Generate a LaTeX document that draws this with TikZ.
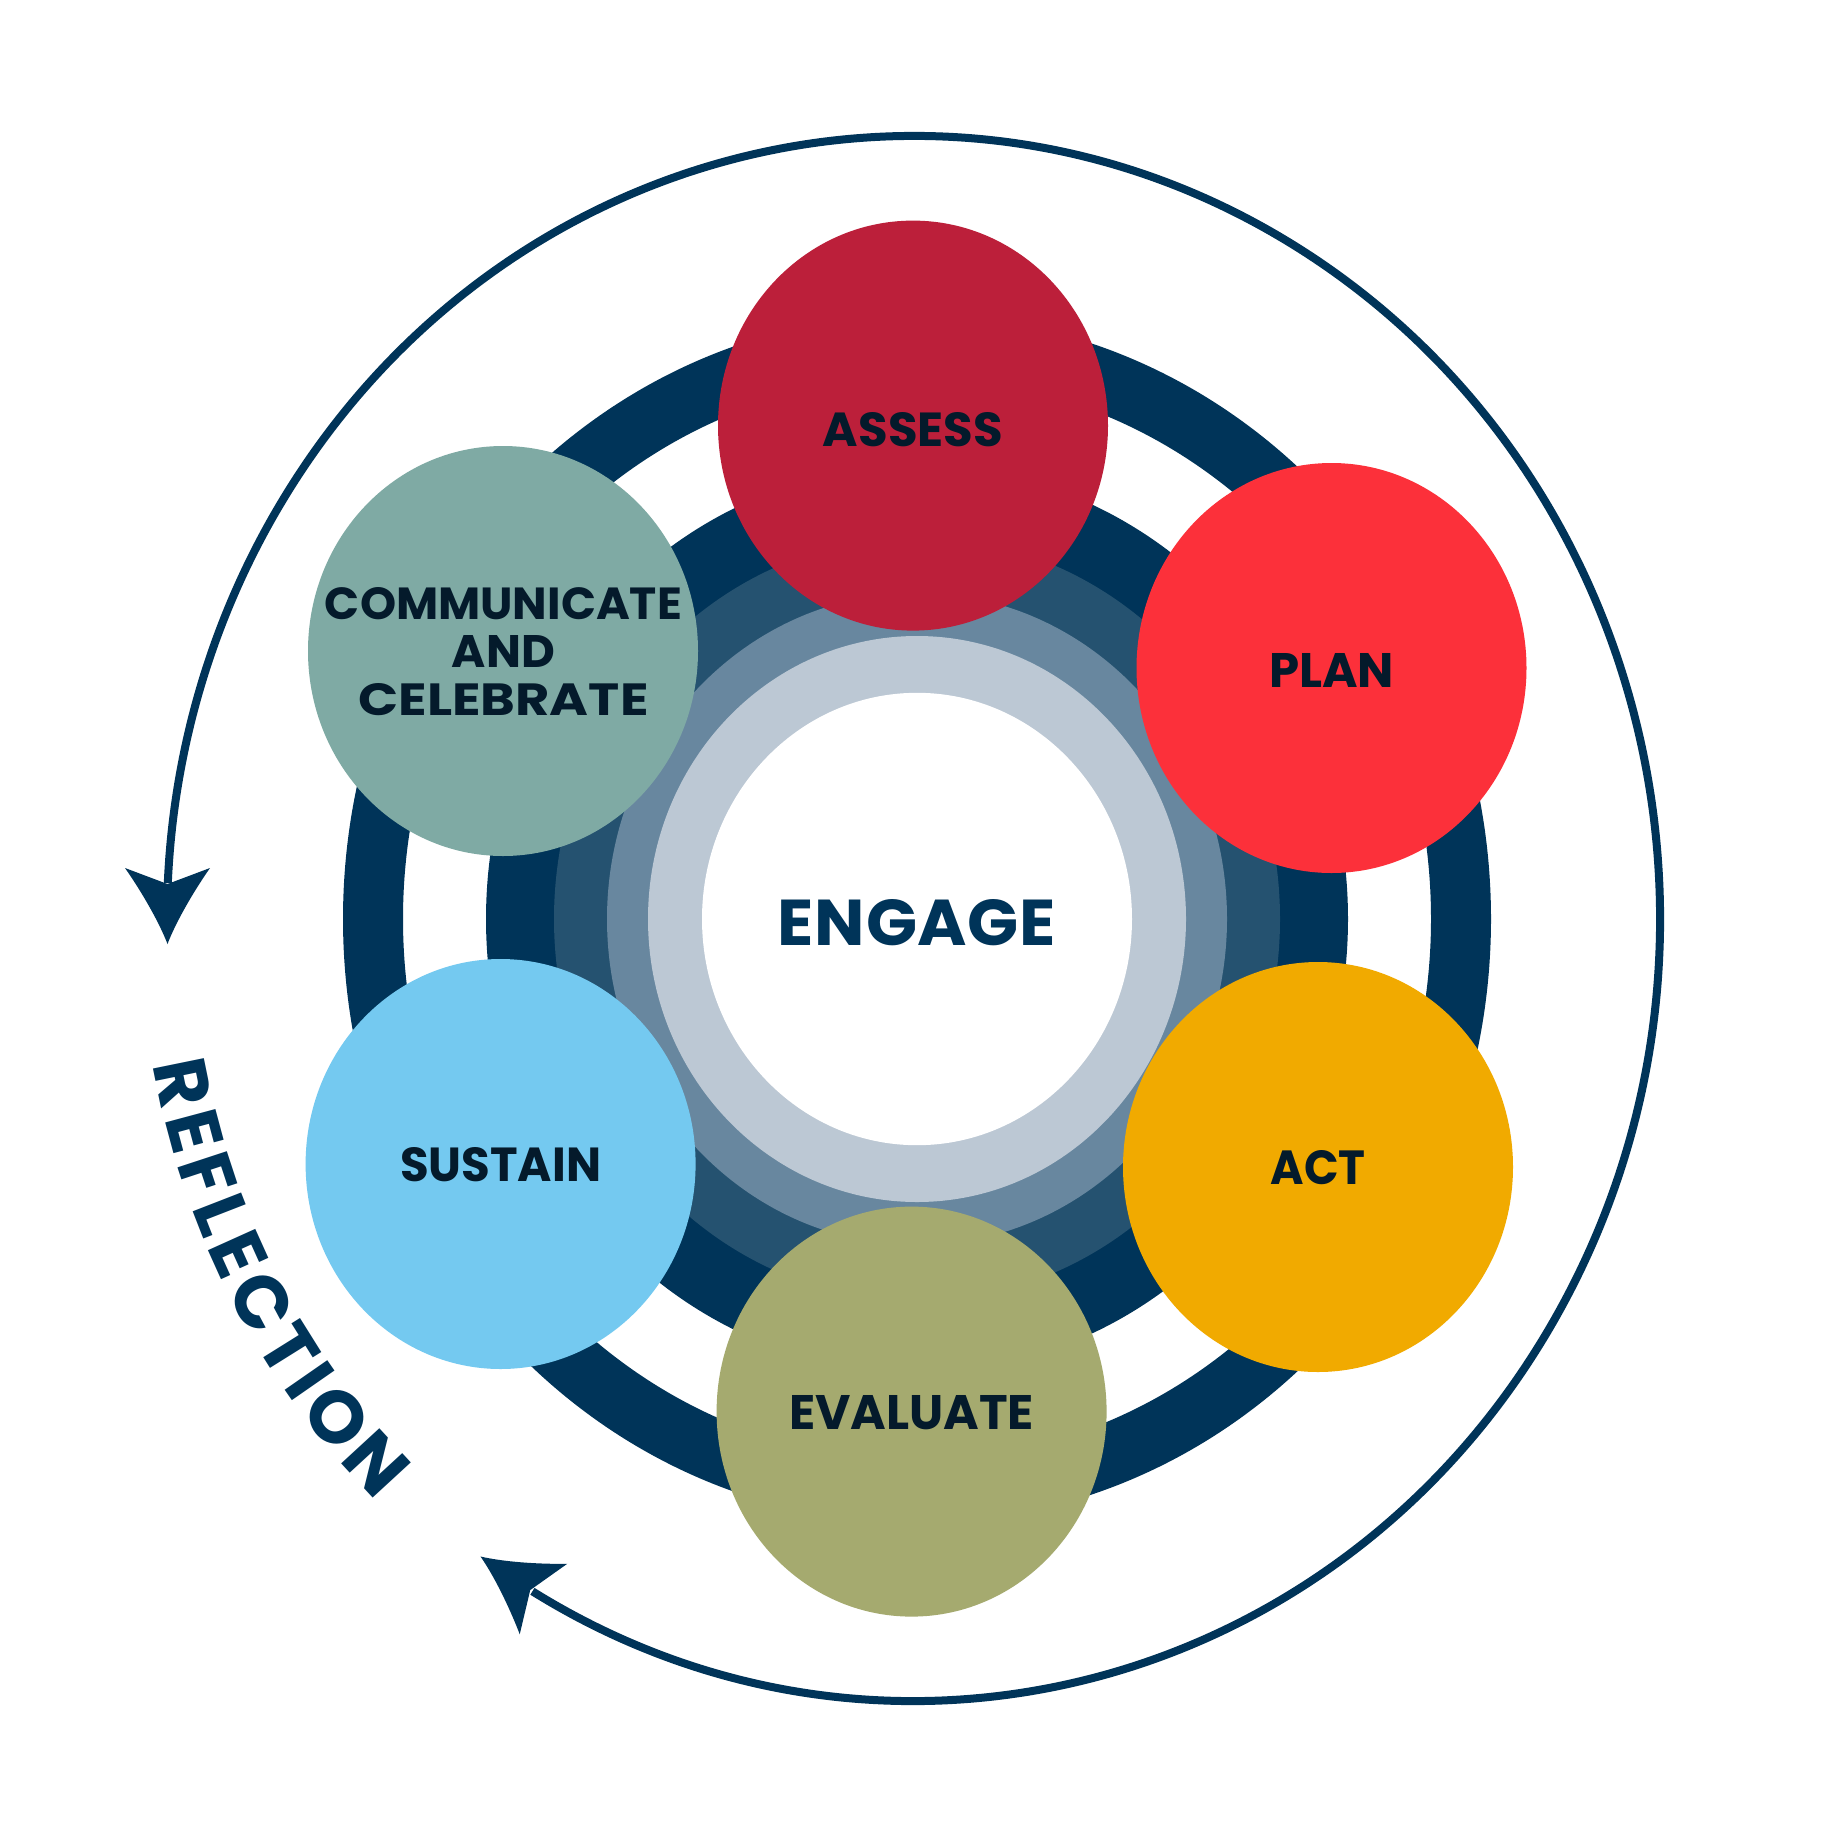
\documentclass[tikz,border=0pt]{standalone}
\usepackage{fontspec}
\usepackage{graphicx}
\setmainfont{Poppins}
\newfontfamily\labfont{Poppins}
\newfontfamily\engfont{Poppins}[LetterSpace=1]
\usetikzlibrary{shapes.geometric,decorations.text}
\definecolor{navy}{HTML}{003459}
\definecolor{midnavy}{HTML}{255270}
\definecolor{slate}{HTML}{68879F}
\definecolor{lightslate}{HTML}{BCC8D4}
\definecolor{labtext}{HTML}{041A2B}
\definecolor{assessc}{HTML}{BC1F3A}
\definecolor{planc}{HTML}{FC303A}
\definecolor{actc}{HTML}{F1AA00}
\definecolor{evalc}{HTML}{A5AA6F}
\definecolor{sustc}{HTML}{74C9F0}
\definecolor{commc}{HTML}{7FAAA4}
\newcommand{\fitbox}[3]{\resizebox{#1pt}{#2pt}{\labfont\bfseries #3}}
\newcommand{\reflfont}{\labfont\bfseries\fontsize{74}{74}\selectfont}
\tikzset{
  stage/.style={ellipse, minimum width=390pt, minimum height=410pt, inner sep=0pt, draw=none},
  lab/.style={inner sep=0pt, text=labtext},
  arrowhd/.style={fill=navy, draw=none}
}
\begin{document}
\begin{tikzpicture}[x=1pt,y=-1pt]
\useasboundingbox (0,0) rectangle (1836,1836);
\fill[white] (0,0) rectangle (1836,1836);
% outer thin reflection arc
\coordinate (oc) at (913.5,918.5);
\draw[navy, line width=8pt] (oc) ++(120.7:746.5 and 782.5)
  arc[start angle=120.7, end angle=-177.4, x radius=746.5, y radius=782.5];
% arrowheads
\fill[arrowhd, shift={(167.5,868)}, rotate=-90]
  (16,0) -- (0,42.5) .. controls (25,25) and (55,8) .. (76,0)
  .. controls (55,-8) and (25,-25) .. (0,-42.5) -- cycle;
\fill[arrowhd, shift={(543.5,1599)}, rotate=146]
  (16,0) -- (0,42.5) .. controls (25,25) and (55,8) .. (76,0)
  .. controls (55,-8) and (25,-25) .. (0,-42.5) -- cycle;
% rings
\coordinate (c) at (917,919);
\fill[navy, even odd rule] (c) ellipse[x radius=574, y radius=604]
  (c) ellipse[x radius=514, y radius=541];
\fill[navy] (c) ellipse[x radius=431, y radius=453.4];
\fill[midnavy] (c) ellipse[x radius=363, y radius=381.9];
\fill[slate] (c) ellipse[x radius=310, y radius=326.1];
\fill[lightslate] (c) ellipse[x radius=269, y radius=283];
\fill[white] (c) ellipse[x radius=215, y radius=226.2];
% stage circles
\node[stage, fill=assessc] (assess) at (913,425.6) {};
\node[stage, fill=planc] (plan) at (1331.5,668) {};
\node[stage, fill=actc] (act) at (1318,1167) {};
\node[stage, fill=evalc] (evaluate) at (911.6,1411.6) {};
\node[stage, fill=sustc] (sustain) at (500.6,1164) {};
\node[stage, fill=commc] (communicate) at (503,651) {};
% labels
\node[lab] (assessT) at (913,430) {\fitbox{180}{34}{ASSESS}};
\node[lab] (planT) at (1331.5,670) {\fitbox{125}{34}{PLAN}};
\node[lab] (actT) at (1318,1168) {\fitbox{95}{34}{ACT}};
\node[lab] (evalT) at (911.6,1413) {\fitbox{245}{34}{EVALUATE}};
\node[lab] (sustT) at (500.6,1165) {\fitbox{201}{34}{SUSTAIN}};
\node[lab, align=center, font=\fontsize{10}{48}\selectfont] (commT) at (503.5,652)
  {\fitbox{357}{32}{COMMUNICATE}\\\fitbox{103}{32}{AND}\\\fitbox{290}{32}{CELEBRATE}};
\node[inner sep=0pt, text=navy] (engage) at (917,922.5)
  {\resizebox{278pt}{46pt}{\engfont\bfseries ENGAGE}};
% reflection text
\path[decorate, decoration={text along path, text={|\reflfont\color{navy}|REFLECTION}, text align=fit to path}]
  (oc) ++(169.6:773 and 810.3) arc[start angle=169.6, end angle=134.0, x radius=773, y radius=810.3];
\end{tikzpicture}
\end{document}
